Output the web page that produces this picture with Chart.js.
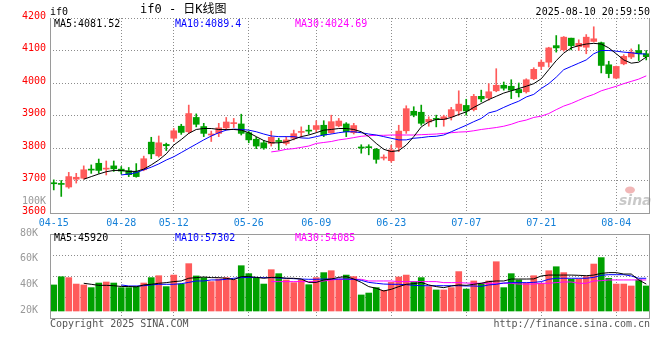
<!DOCTYPE html>
<html>
<head>
<meta charset="utf-8">
<script src="https://cdn.jsdelivr.net/npm/chart.js@4.4.0/dist/chart.umd.min.js"></script>
<style>
  html, body { margin: 0; padding: 0; background: #fff; }
  #wrap { position: relative; width: 660px; height: 360px; }
  #wrap canvas { position: absolute; left: 0; }
</style>
</head>
<body>
<div id="wrap">
  <canvas id="kline" width="660" height="230" style="top:0"></canvas>
  <canvas id="vol" width="660" height="170" style="top:190px"></canvas>
</div>
<script>
// trading days 2025-04-15 .. 2025-08-08
var dates = ['04-15','04-16','04-17','04-18','04-21','04-22','04-23','04-24','04-25','04-28','04-29','04-30',
  '05-06','05-07','05-08','05-09','05-12','05-13','05-14','05-15','05-16','05-19','05-20','05-21','05-22','05-23',
  '05-26','05-27','05-28','05-29','05-30',
  '06-03','06-04','06-05','06-06','06-09','06-10','06-11','06-12','06-13','06-16','06-17','06-18','06-19','06-20',
  '06-23','06-24','06-25','06-26','06-27','06-30',
  '07-01','07-02','07-03','07-04','07-07','07-08','07-09','07-10','07-11','07-14','07-15','07-16','07-17','07-18',
  '07-21','07-22','07-23','07-24','07-25','07-28','07-29','07-30','07-31',
  '08-01','08-04','08-05','08-06','08-07','08-08'];
var tickDates = ['04-15','04-28','05-12','05-26','06-09','06-23','07-07','07-21','08-04'];

var opens = [3692,3690,3680,3704,3707,3734,3753,3735,3745,3735,3730,3727,3733,3818,3776,3811,3830,3867,3850,3894,
  3866,3840,3845,3862,3875,3874,3847,3827,3816,3814,3823,3814,3830,3848,3854,3857,3870,3847,3868,3874,
  3847,3802,3803,3796,3769,3761,3802,3853,3913,3910,3880,3890,3888,3896,3914,3931,3918,3959,3954,3976,
  3993,3990,3980,3973,4013,4051,4064,4115,4102,4138,4112,4110,4128,4124,4056,4015,4059,4080,4100,4090];
var highs = [3702,3700,3725,3722,3745,3748,3766,3760,3760,3743,3740,3752,3775,3833,3837,3815,3860,3873,3932,3905,
  3876,3852,3876,3894,3891,3904,3851,3833,3823,3852,3830,3835,3855,3865,3870,3884,3884,3901,3891,3878,
  3876,3810,3810,3799,3779,3809,3870,3930,3927,3932,3896,3901,3901,3925,3976,3950,3965,3978,3998,4044,
  4003,4010,4000,4013,4047,4071,4110,4146,4143,4138,4133,4149,4173,4126,4067,4052,4087,4105,4118,4100];
var lows = [3671,3651,3676,3692,3704,3722,3722,3717,3728,3720,3712,3710,3730,3767,3772,3792,3820,3842,3845,3865,
  3835,3820,3835,3855,3863,3840,3816,3798,3796,3806,3794,3809,3825,3833,3843,3850,3835,3845,3865,3835,
  3843,3784,3779,3753,3763,3756,3789,3845,3896,3870,3867,3865,3867,3886,3901,3901,3914,3942,3947,3973,
  3978,3952,3957,3969,4010,4041,4049,4095,4098,4102,4100,4090,4126,4031,4016,4013,4056,4075,4069,4071];
var closes = [3690,3688,3712,3710,3733,3732,3731,3738,3736,3729,3718,3712,3767,3782,3816,3807,3853,3848,3906,3873,
  3845,3843,3862,3880,3878,3845,3825,3806,3800,3833,3820,3825,3844,3851,3852,3869,3840,3881,3883,3850,
  3869,3800,3801,3765,3771,3794,3852,3921,3901,3876,3888,3888,3896,3918,3935,3914,3959,3951,3973,3993,
  3984,3978,3970,4010,4042,4064,4108,4108,4141,4115,4122,4141,4136,4054,4029,4051,4082,4095,4090,4081];

var ma5 = [null,null,null,null,3704,3712,3720,3727,3731,3731,3728,3728,3735,3748,3763,3782,3809,3826,3845,3857,
  3860,3860,3857,3857,3857,3855,3847,3835,3823,3816,3816,3819,3827,3835,3840,3847,3855,3857,3860,3860,
  3857,3850,3835,3814,3796,3789,3792,3809,3835,3865,3880,3888,3888,3894,3903,3911,3925,3937,3949,3959,
  3969,3976,3983,3990,3998,4013,4041,4069,4092,4108,4115,4120,4122,4120,4108,4090,4071,4061,4064,4080];
var ma10 = [null,null,null,null,null,null,null,null,null,3717,3720,3724,3733,3741,3751,3763,3773,3786,3799,3812,
  3825,3837,3847,3855,3858,3857,3855,3850,3843,3837,3835,3835,3835,3831,3830,3835,3840,3843,3847,3850,
  3850,3847,3843,3840,3835,3830,3825,3825,3830,3832,3835,3836,3840,3850,3860,3870,3881,3891,3908,3914,
  3925,3935,3944,3957,3965,3983,3998,4018,4041,4051,4061,4071,4090,4100,4100,4098,4095,4093,4090,4089];
var ma30 = [null,null,null,null,null,null,null,null,null,null,null,null,null,null,null,null,null,null,null,null,
  null,null,null,null,null,null,null,null,null,3788,3791,3796,3798,3802,3806,3814,3817,3820,3825,3828,
  3832,3836,3838,3839,3839,3840,3840,3840,3840,3841,3842,3843,3845,3847,3849,3850,3853,3857,3860,3863,
  3867,3873,3881,3886,3894,3898,3906,3918,3929,3937,3947,3957,3965,3976,3983,3990,3998,4005,4012,4022];

var volumes = [40300,46700,46000,41000,40300,38200,41800,42600,41800,38200,38200,39000,41800,46000,47500,39000,48000,41000,56900,47300,
  46000,42900,44900,46000,44200,55300,49100,45500,41000,52200,49100,44200,42100,44200,40500,46000,49900,51400,44200,48000,
  46800,32500,34000,38200,36100,42300,46500,48000,42900,46000,39000,36400,36400,38200,50700,37100,43400,41600,43400,58400,
  38200,49100,44200,41600,47500,41600,51400,54500,49900,44700,44900,46800,56600,61600,45500,41000,41000,39500,44200,39500];
var vma5 = [null,null,null,null,41600,40800,40000,40000,39700,39100,39100,38800,40300,40800,41600,42100,42900,43400,45500,46000,
  46500,46000,46000,45500,44400,46800,46800,46200,45500,46200,46200,45500,45500,44900,42300,42300,44200,44900,46200,46800,
  44900,42300,39000,37700,35600,36900,39000,40800,41300,42300,40300,39000,38200,39500,40300,40000,40800,41600,42900,43400,
  43400,44900,44900,44900,45000,47300,48000,48000,48000,48000,47800,47500,48000,49300,49900,49900,48800,48800,44200,41000];
var vma10 = [null,null,null,null,null,null,null,null,null,40300,39500,39500,39700,40300,40800,40800,40800,41300,42300,43400,
  43400,44200,44200,44700,45500,46000,46200,46200,46000,46000,45700,45500,45200,44900,44700,44700,44900,44900,44900,44900,
  44700,43900,42300,41600,41000,40800,40800,40500,40000,39700,39700,39700,39700,39700,39700,39500,39500,39200,40300,40800,
  41800,42100,42100,42100,42300,42900,44700,45500,45500,45500,45500,45500,46200,47800,48300,48300,48300,47300,45500,45500];
var vma30 = [null,null,null,null,null,null,null,null,null,null,null,null,null,null,null,null,null,null,null,null,
  null,null,null,null,null,null,null,null,null,42900,42900,42900,42900,42900,42900,42900,43400,44200,44700,44700,
  44700,44700,43400,43400,43400,43400,42900,42900,42900,42900,42900,42900,42100,42100,42100,41800,41600,41600,41600,41600,
  41600,41600,41000,41000,41000,41600,41600,42100,42600,42600,41600,41600,43400,43600,44200,44200,44200,44200,44200,44200];
var volTicks = [20000, 40000, 60000, 80000];
var volBase = 20000;

var upColor = '#ff5a5a', downColor = '#00a000';
var gridColor = '#8c8c8c', frameColor = '#9a9a9a';
var mono = "'DejaVu Sans Mono', 'Liberation Mono', monospace";
var candleColors = closes.map(function(c, i){ return c >= opens[i] ? upColor : downColor; });

function isTick(i){ return tickDates.indexOf(dates[i]) >= 0; }

function drawFrame(ctx, a, withTop){
  ctx.save();
  ctx.strokeStyle = frameColor;
  ctx.lineWidth = 1;
  ctx.beginPath();
  if (withTop) { ctx.moveTo(a.left, a.top + 0.5); ctx.lineTo(a.right, a.top + 0.5); }
  ctx.moveTo(a.left + 0.5, a.top); ctx.lineTo(a.left + 0.5, a.bottom + 1);
  ctx.moveTo(a.right - 0.5, a.top); ctx.lineTo(a.right - 0.5, a.bottom + 1);
  ctx.moveTo(a.left, a.bottom + 0.5); ctx.lineTo(a.right, a.bottom + 0.5);
  ctx.stroke();
  ctx.restore();
}

// texts round the price panel
var kPanel = {
  id: 'kPanel',
  afterDraw: function(chart){
    var ctx = chart.ctx, a = chart.chartArea;
    drawFrame(ctx, a, false);
    ctx.save();
    ctx.textBaseline = 'middle';
    ctx.font = '10px ' + mono;
    ctx.fillStyle = '#000';
    ctx.textAlign = 'left';
    ctx.fillText('if0', 50, 12);
    ctx.textAlign = 'right';
    ctx.fillText('2025-08-10 20:59:50', 650, 12);
    ctx.textAlign = 'left';
    ctx.font = "12px 'DejaVu Sans Mono', 'Noto Sans CJK SC', monospace";
    ctx.fillText('if0 - 日K线图', 140, 10);
    ctx.font = '10px ' + mono;
    ctx.fillStyle = '#000';
    ctx.fillText('MA5:4081.52', 54, 24);
    ctx.fillStyle = '#0000ff';
    ctx.fillText('MA10:4089.4', 175, 24);
    ctx.fillStyle = '#ff00ff';
    ctx.fillText('MA30:4024.69', 295, 24);
    ctx.fillStyle = '#999';
    ctx.textAlign = 'right';
    ctx.fillText('100K', 46, 201);
    // sina watermark
    ctx.globalAlpha = 0.45;
    ctx.fillStyle = '#e06060';
    ctx.beginPath();
    ctx.ellipse(630, 190, 5, 3.5, 0, 0, Math.PI * 2);
    ctx.fill();
    ctx.fillStyle = '#888';
    ctx.textAlign = 'left';
    ctx.font = "italic bold 14px 'DejaVu Sans', sans-serif";
    ctx.fillText('sina', 619, 201);
    ctx.restore();
  }
};

var volPanel = {
  id: 'volPanel',
  afterDraw: function(chart){
    var ctx = chart.ctx, a = chart.chartArea;
    drawFrame(ctx, a, true);
    ctx.save();
    ctx.textBaseline = 'middle';
    ctx.font = '10px ' + mono;
    ctx.textAlign = 'left';
    ctx.fillStyle = '#000';
    ctx.fillText('MA5:45920', 54, a.top + 4);
    ctx.fillStyle = '#0000ff';
    ctx.fillText('MA10:57302', 175, a.top + 4);
    ctx.fillStyle = '#ff00ff';
    ctx.fillText('MA30:54085', 295, a.top + 4);
    ctx.fillStyle = '#555';
    ctx.fillText('Copyright 2025 SINA.COM', 50, a.bottom + 6);
    ctx.textAlign = 'right';
    ctx.fillText('http://finance.sina.com.cn', 650, a.bottom + 6);
    ctx.restore();
  }
};

function maLine(label, data, color){
  return { type: 'line', label: label, data: data, borderColor: color, borderWidth: 1,
    pointRadius: 0, tension: 0, spanGaps: false, order: 0 };
}

var xGrid = {
  offset: false, drawTicks: false, lineWidth: 1,
  color: function(c){ return (c.index > 0 && isTick(c.index)) ? gridColor : 'rgba(0,0,0,0)'; }
};

new Chart(document.getElementById('kline'), {
  type: 'bar',
  data: {
    labels: dates,
    datasets: [
      maLine('MA5', ma5, '#000000'),
      maLine('MA10', ma10, '#0000ff'),
      maLine('MA30', ma30, '#ff00ff'),
      { label: 'body', data: opens.map(function(o, i){ return [o, closes[i]]; }),
        backgroundColor: candleColors, barThickness: 6, minBarLength: 1, grouped: false, order: 1 },
      { label: 'wick', data: lows.map(function(l, i){ return [l, highs[i]]; }),
        backgroundColor: candleColors, barThickness: 1, grouped: false, order: 2 }
    ]
  },
  options: {
    responsive: false, animation: false,
    layout: { padding: { left: 0, right: 10, top: 18, bottom: 0 } },
    plugins: { legend: { display: false }, tooltip: { enabled: false } },
    scales: {
      x: {
        grid: xGrid,
        border: { display: false, dash: [1, 2] },
        ticks: { autoSkip: false, maxRotation: 0, padding: 4, color: '#1580d8',
          font: { family: mono, size: 10 },
          callback: function(v, i){ return isTick(i) ? dates[i] : ''; } },
        afterFit: function(s){ s.height = 17; }
      },
      y: {
        min: 3600, max: 4200,
        ticks: { stepSize: 100, padding: 4, labelOffset: -2, color: '#ff0000', font: { family: mono, size: 10 },
          callback: function(v){ return String(v); } },
        grid: { color: gridColor, lineWidth: 1, drawTicks: false },
        border: { display: false, dash: [1, 2] },
        afterFit: function(s){ s.width = 50; }
      }
    }
  },
  plugins: [kPanel]
});

new Chart(document.getElementById('vol'), {
  type: 'bar',
  data: {
    labels: dates,
    datasets: [
      maLine('MA5', vma5, '#000000'),
      maLine('MA10', vma10, '#0000ff'),
      maLine('MA30', vma30, '#ff00ff'),
      { label: 'volume', data: volumes.map(function(v){ return [volBase, v]; }),
        backgroundColor: candleColors, barThickness: 6, grouped: false, order: 1 }
    ]
  },
  options: {
    responsive: false, animation: false,
    layout: { padding: { left: 0, right: 10, top: 44, bottom: 42 } },
    plugins: { legend: { display: false }, tooltip: { enabled: false } },
    scales: {
      x: {
        grid: xGrid,
        border: { display: false, dash: [1, 2] },
        ticks: { display: false, autoSkip: false },
        afterFit: function(s){ s.height = 0; }
      },
      y: {
        min: 14545, max: 80000,
        afterBuildTicks: function(s){ s.ticks = volTicks.map(function(v){ return { value: v }; }); },
        ticks: { padding: 4, labelOffset: -1, color: '#999999', font: { family: mono, size: 10 },
          callback: function(v){ return (v / 1000) + 'K'; } },
        grid: { display: false },
        border: { display: false },
        afterFit: function(s){ s.width = 50; }
      },
      yg: {
        position: 'right', min: 0, max: 4,
        ticks: { display: false, stepSize: 1 },
        grid: { color: gridColor, lineWidth: 1, drawTicks: false },
        border: { display: false, dash: [1, 2] },
        afterFit: function(s){ s.width = 0; }
      }
    }
  },
  plugins: [volPanel]
});
</script>
</body>
</html>
